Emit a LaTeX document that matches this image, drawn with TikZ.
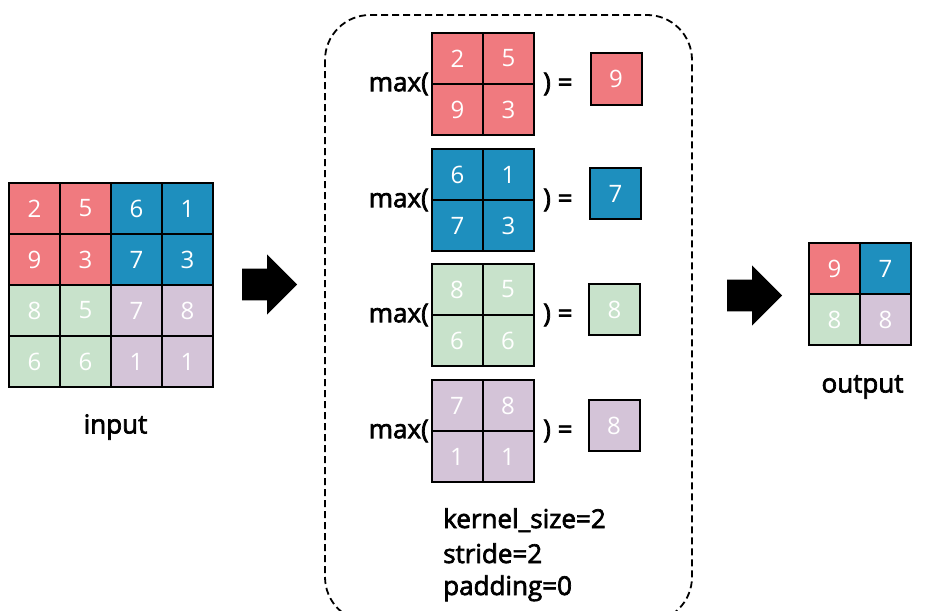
\documentclass[tikz,border=0pt]{standalone}
\usepackage{fontspec}
\setmainfont{Open Sans}
\newfontfamily\labelfont{Open Sans}[FakeBold=2.6]
\usetikzlibrary{shapes.arrows}

\definecolor{poolred}{RGB}{240,122,127}
\definecolor{poolblue}{RGB}{30,143,190}
\definecolor{poolgreen}{RGB}{200,226,203}
\definecolor{poolpurple}{RGB}{212,196,216}

\tikzset{
	cell/.style={draw=black, line width=2pt, minimum size=51pt, inner sep=0pt, text=white, font=\fontsize{24}{24}\selectfont},
	plaintext/.style={inner sep=0pt, font=\labelfont\fontsize{26}{28}\selectfont},
	blockarrow/.style={single arrow, fill=black, inner xsep=0pt, inner ysep=15.75pt, minimum height=55pt, single arrow head extend=14.25pt, anchor=tail}
}

\begin{document}
\begin{tikzpicture}[x=1pt, y=-1pt]
\clip (0,0) rectangle (925,610);
\fill[white] (0,0) rectangle (925,610);

\node[cell, fill=poolred] (in11) at (34.5, 208.5) {2}; % input row 1
\node[cell, fill=poolred] (in12) at (85.5, 208.5) {5};
\node[cell, fill=poolblue] (in13) at (136.5, 208.5) {6};
\node[cell, fill=poolblue] (in14) at (187.5, 208.5) {1};
\node[cell, fill=poolred] (in21) at (34.5, 259.5) {9}; % input row 2
\node[cell, fill=poolred] (in22) at (85.5, 259.5) {3};
\node[cell, fill=poolblue] (in23) at (136.5, 259.5) {7};
\node[cell, fill=poolblue] (in24) at (187.5, 259.5) {3};
\node[cell, fill=poolgreen] (in31) at (34.5, 310.5) {8}; % input row 3
\node[cell, fill=poolgreen] (in32) at (85.5, 310.5) {5};
\node[cell, fill=poolpurple] (in33) at (136.5, 310.5) {7};
\node[cell, fill=poolpurple] (in34) at (187.5, 310.5) {8};
\node[cell, fill=poolgreen] (in41) at (34.5, 361.5) {6}; % input row 4
\node[cell, fill=poolgreen] (in42) at (85.5, 361.5) {6};
\node[cell, fill=poolpurple] (in43) at (136.5, 361.5) {1};
\node[cell, fill=poolpurple] (in44) at (187.5, 361.5) {1};
\node[plaintext] (input) at (115.5, 427) {input};

\node[blockarrow] (arr1) at (242, 284.5) {}; % input -> pooling

\draw[dashed, dash pattern=on 7pt off 4pt, line width=1.8pt, rounded corners=45pt] (325, 15) rectangle (692, 622); % pooling frame

\node[cell, fill=poolred] (k1a) at (457.5, 58.5) {2}; % red window
\node[cell, fill=poolred] (k1b) at (508.5, 58.5) {5};
\node[cell, fill=poolred] (k1c) at (457.5, 109.5) {9};
\node[cell, fill=poolred] (k1d) at (508.5, 109.5) {3};
\node[plaintext, anchor=east] (max1) at (429, 84) {max(};
\node[plaintext, anchor=west] (eq1) at (543, 84) {) =};
\node[cell, fill=poolred] (res1) at (616, 79) {9};

\node[cell, fill=poolblue] (k2a) at (457.5, 174.5) {6}; % blue window
\node[cell, fill=poolblue] (k2b) at (508.5, 174.5) {1};
\node[cell, fill=poolblue] (k2c) at (457.5, 225.5) {7};
\node[cell, fill=poolblue] (k2d) at (508.5, 225.5) {3};
\node[plaintext, anchor=east] (max2) at (429, 200) {max(};
\node[plaintext, anchor=west] (eq2) at (543, 200) {) =};
\node[cell, fill=poolblue] (res2) at (615.5, 193.5) {7};

\node[cell, fill=poolgreen] (k3a) at (457, 289.5) {8}; % green window
\node[cell, fill=poolgreen] (k3b) at (508, 289.5) {5};
\node[cell, fill=poolgreen] (k3c) at (457, 340.5) {6};
\node[cell, fill=poolgreen] (k3d) at (508, 340.5) {6};
\node[plaintext, anchor=east] (max3) at (429, 315) {max(};
\node[plaintext, anchor=west] (eq3) at (543, 315) {) =};
\node[cell, fill=poolgreen] (res3) at (614.5, 309.5) {8};

\node[cell, fill=poolpurple] (k4a) at (457, 405.5) {7}; % purple window
\node[cell, fill=poolpurple] (k4b) at (508, 405.5) {8};
\node[cell, fill=poolpurple] (k4c) at (457, 456.5) {1};
\node[cell, fill=poolpurple] (k4d) at (508, 456.5) {1};
\node[plaintext, anchor=east] (max4) at (429, 431) {max(};
\node[plaintext, anchor=west] (eq4) at (543, 431) {) =};
\node[cell, fill=poolpurple] (res4) at (614, 425.5) {8};

\node[plaintext, anchor=base west] (ksize) at (443, 528) {kernel\_size=2};
\node[plaintext, anchor=base west] (stride) at (443, 563) {stride=2};
\node[plaintext, anchor=base west] (padding) at (443, 595) {padding=0};

\node[blockarrow] (arr2) at (727, 295.5) {}; % pooling -> output

\node[cell, fill=poolred] (out1) at (834.5, 268.5) {9}; % output
\node[cell, fill=poolblue] (out2) at (885.5, 268.5) {7};
\node[cell, fill=poolgreen] (out3) at (834.5, 319.5) {8};
\node[cell, fill=poolpurple] (out4) at (885.5, 319.5) {8};
\node[plaintext] (output) at (862.5, 387) {output};

\end{tikzpicture}
\end{document}
